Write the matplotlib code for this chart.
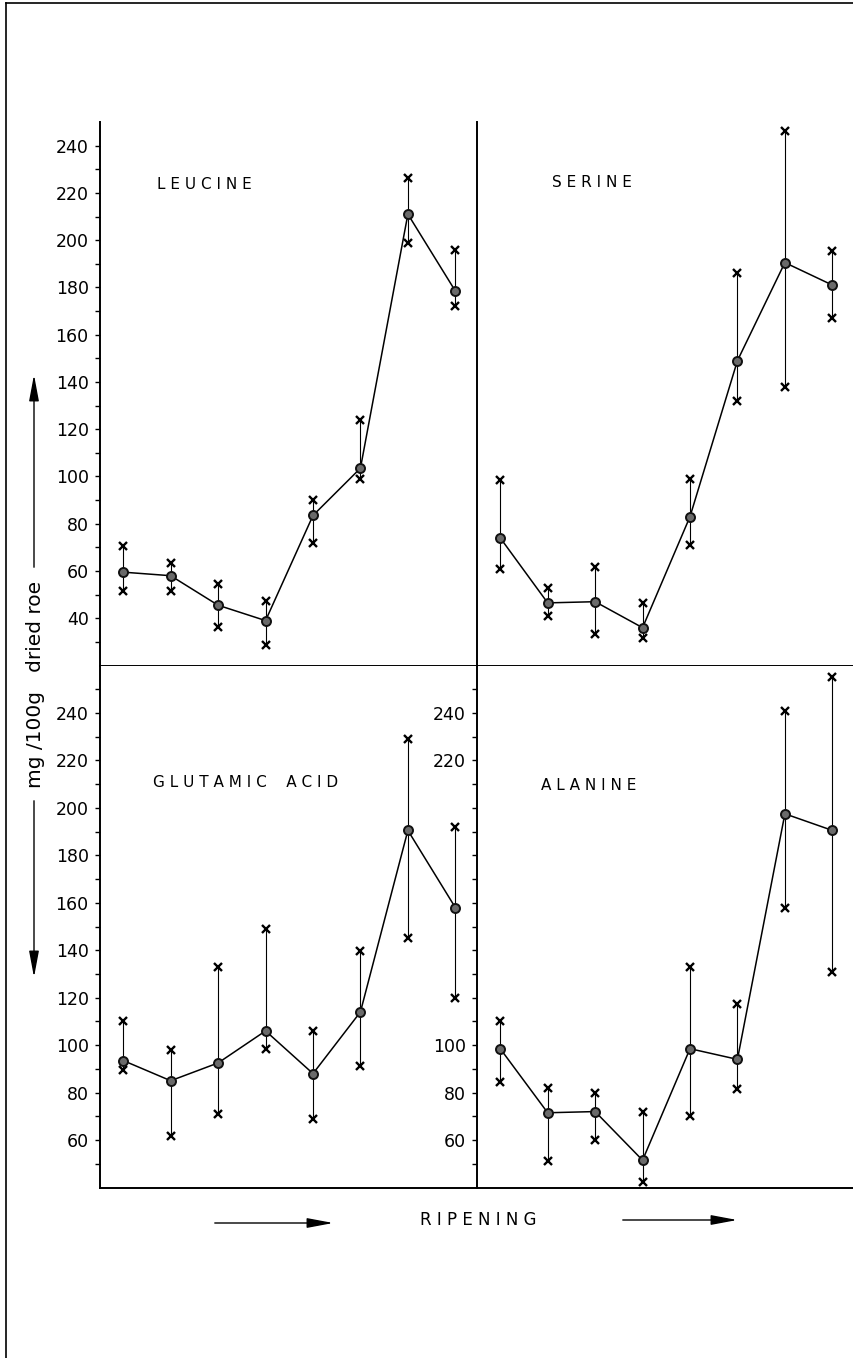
import matplotlib
matplotlib.use("Agg")
import matplotlib.pyplot as plt
from matplotlib.lines import Line2D
from matplotlib.patches import FancyArrowPatch
import numpy as np

# ripening stages (8 samplings)
stages = np.arange(8)

# Leucine
leu_mean = [59.5, 58, 45.5, 39, 83.5, 103.5, 211, 178.5]
leu_hi = [70.5, 63.5, 54.5, 47.5, 90, 124, 226.5, 196]
leu_lo = [51.5, 51.5, 36.5, 28.5, 72, 99, 199, 172]

# Serine
ser_mean = [74, 46.5, 47, 36, 83, 149, 190.5, 181]
ser_hi = [98.5, 53, 61.5, 46.5, 99, 186, 246, 195.5]
ser_lo = [61, 41, 33.5, 31.5, 71, 132, 138, 167]

# Glutamic acid
glu_mean = [93.5, 85, 92.5, 106, 88, 114, 190.5, 158]
glu_hi = [110, 98, 133, 149, 106, 139.5, 229, 192]
glu_lo = [89.5, 61.5, 71, 98.5, 69, 91, 145, 120]

# Alanine
ala_mean = [98.5, 71.5, 72, 51.5, 98.5, 94, 197.5, 190.5]
ala_hi = [110, 82, 80, 72, 133, 117.5, 241, 255]
ala_lo = [84.5, 51, 60, 42.5, 70, 81.5, 158, 131]

top_ticks = list(range(40, 241, 20))
bot_ticks = list(range(60, 241, 20))
br_labeled = [60, 80, 100, 220, 240]

plt.rcParams['font.family'] = ['DejaVu Sans']

W, H = 854, 1358
fig = plt.figure(figsize=(W / 100, H / 100), dpi=100)


def box(x0, y0, x1, y1):
    # pixel box measured from the top left of the page
    return [x0 / W, 1 - y1 / H, (x1 - x0) / W, (y1 - y0) / H]


ax_tl = fig.add_axes(box(100, 122, 477, 665.5))
ax_tr = fig.add_axes(box(477, 122, 854, 665.5))
ax_bl = fig.add_axes(box(100, 665.5, 477, 1187.5))
ax_br = fig.add_axes(box(477, 665.5, 854, 1187.5))


def draw(ax, mean, hi, lo, name, tx, ty):
    ax.vlines(stages, lo, hi, color='black', lw=0.8, zorder=2)
    ax.plot(stages, mean, '-', color='black', lw=1.1, zorder=3)
    ax.plot(stages, mean, 'o', ms=6.5, mfc='#6a6a6a', mec='#111111', mew=1.4,
            zorder=4, clip_on=False)
    ax.plot(stages, hi, 'x', ms=5.5, mew=1.7, color='black', zorder=4, clip_on=False)
    ax.plot(stages, lo, 'x', ms=5.5, mew=1.7, color='black', zorder=4, clip_on=False)
    ax.text(tx, ty, name, fontsize=11, ha='left', va='center')
    ax.set_xlim(-0.49, 7.457)
    for s in ['top', 'right']:
        ax.spines[s].set_visible(False)
    for s in ['left', 'bottom']:
        ax.spines[s].set_linewidth(1.4)
    ax.tick_params(axis='x', length=0, labelbottom=False)
    ax.tick_params(axis='y', which='both', direction='out', length=3.6, width=1.0,
                   labelsize=12.5, pad=4.5)


draw(ax_tl, leu_mean, leu_hi, leu_lo, 'L E U C I N E', 0.71, 223.5)
draw(ax_tr, ser_mean, ser_hi, ser_lo, 'S E R I N E', 1.1, 224.5)
draw(ax_bl, glu_mean, glu_hi, glu_lo, 'G L U T A M I C    A C I D', 0.63, 210.5)
draw(ax_br, ala_mean, ala_hi, ala_lo, 'A L A N I N E', 0.85, 209.5)

for ax in [ax_tl, ax_tr]:
    ax.set_ylim(20, 250)
for ax in [ax_bl, ax_br]:
    ax.set_ylim(40, 260)

ax_tl.set_yticks(top_ticks)
ax_tl.set_yticks(list(range(30, 240, 20)), minor=True)

ax_tr.set_yticks([])
ax_tr.tick_params(axis='y', which='both', length=0)

ax_bl.set_yticks(bot_ticks)
ax_bl.set_yticks(list(range(50, 260, 20)), minor=True)

ax_br.set_yticks(bot_ticks)
ax_br.set_yticklabels([str(v) if v in br_labeled else '' for v in bot_ticks])
ax_br.set_yticks(list(range(50, 260, 20)), minor=True)

# y label with arrows
fig.text(36 / W, 1 - 684 / H, 'mg /100g   dried roe', rotation=90,
         ha='center', va='center', fontsize=14.5)


def arrow(x0, y0, x1, y1):
    a = FancyArrowPatch((x0 / W, 1 - y0 / H), (x1 / W, 1 - y1 / H),
                        transform=fig.transFigure,
                        arrowstyle='-|>,head_length=1.6,head_width=0.3',
                        mutation_scale=10, lw=1.0, color='black')
    fig.add_artist(a)


arrow(34, 570, 34, 372)
arrow(34, 798, 34, 980)

# ripening
fig.text(478 / W, 1 - 1220 / H, 'R I P E N I N G', ha='center', va='center',
         fontsize=12)
arrow(212, 1223, 336, 1223)
arrow(620, 1220, 740, 1220)

# page frame
fig.add_artist(Line2D([6 / W, 6 / W], [0, 1 - 3 / H], transform=fig.transFigure,
                      color='black', lw=1.2))
fig.add_artist(Line2D([6 / W, 1], [1 - 3 / H, 1 - 3 / H], transform=fig.transFigure,
                      color='black', lw=1.2))

fig.savefig('out.png', dpi=100, facecolor='white')
